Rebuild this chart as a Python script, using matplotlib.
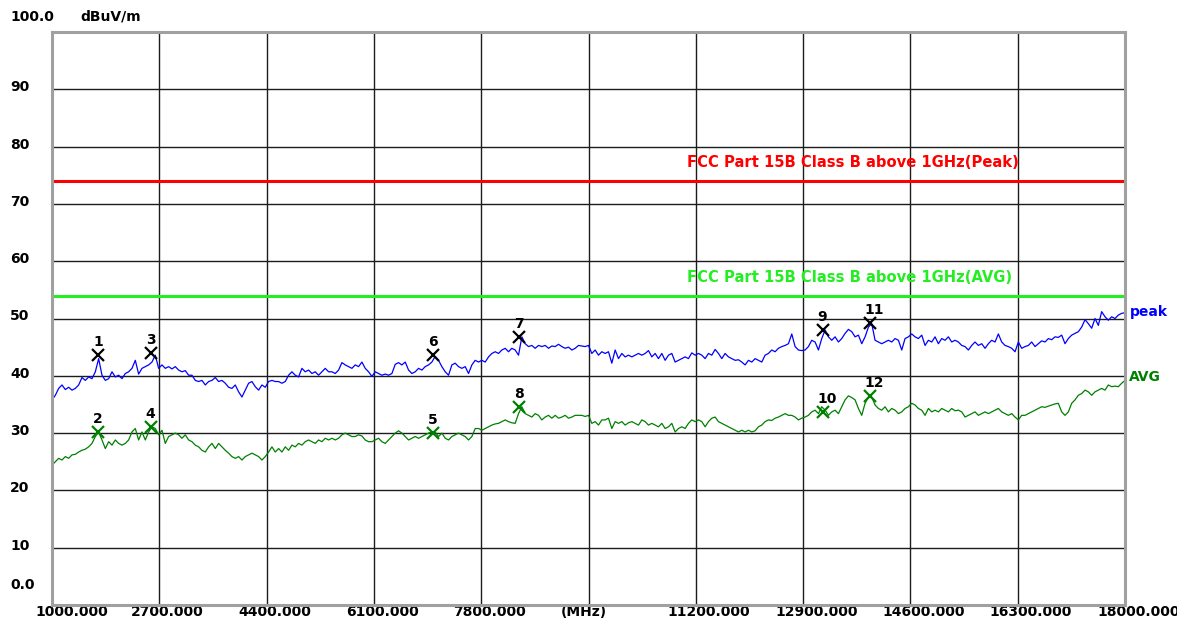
import numpy as np
import matplotlib
matplotlib.use("Agg")
import matplotlib.pyplot as plt
from matplotlib.transforms import ScaledTranslation, blended_transform_factory

# ---------------- data ----------------
peak_seg1 = [35.8, 36.6, 37.8, 38.4, 37.6, 38.0, 37.5, 37.8, 38.4, 39.7,
             39.2, 39.8, 39.5, 40.7, 43.0, 40.1, 39.2, 39.5, 40.7, 39.8,
             40.1, 39.5, 40.4, 40.7, 41.3, 42.7, 40.3, 41.3, 41.6, 41.9,
             42.4, 43.6, 41.3, 41.9, 41.3, 41.6, 41.2, 41.6, 41.0, 40.7,
             40.9, 40.1, 40.1, 39.2, 39.0, 39.2, 38.4, 39.0, 39.2, 39.7,
             39.0, 39.2, 38.7, 38.0, 37.8, 38.4, 37.2, 36.3, 37.5, 38.7,
             39.0, 38.1, 37.5, 38.4, 38.0, 39.0, 39.2, 39.0, 39.0, 38.7,
             39.0, 40.1, 40.7, 40.1, 39.8, 41.3, 40.7, 41.0, 40.4, 40.7,
             40.1, 40.7, 41.3, 40.7, 40.7]
peak_seg2 = [40.4, 41.0, 42.3, 41.9, 41.6, 41.3, 41.9, 41.6, 42.4, 41.3,
             40.7, 39.9, 40.7, 40.4, 40.1, 40.3, 40.1, 40.4, 42.0, 42.3,
             41.9, 42.4, 41.0, 40.4, 40.7, 41.3, 41.0, 41.6, 41.9, 42.4,
             43.4, 42.7, 41.6, 40.7, 40.1, 41.9, 42.2, 41.6, 41.3, 41.6,
             40.4, 41.9, 42.7, 42.4, 42.7, 42.4, 43.3, 43.9, 44.2, 43.9,
             44.5, 44.8, 44.2, 44.8, 44.5, 43.6, 46.8, 45.6, 45.1, 45.3,
             44.8, 45.3, 45.1, 45.3, 44.8, 45.2, 45.1, 45.5, 45.1, 44.8,
             45.0, 44.5, 44.8, 45.3, 45.2, 45.1, 45.3, 43.9, 44.5, 43.6,
             44.2]
peak_seg3 = [43.9, 44.2, 42.2, 44.5, 43.0, 43.9, 43.3, 43.6, 43.3, 43.6,
             43.9, 43.6, 43.9, 44.4, 43.3, 43.9, 43.0, 43.9, 42.7, 43.6,
             43.9, 42.4, 42.7, 43.0, 43.3, 43.0, 44.0, 43.6, 43.9, 43.6,
             43.0, 43.9, 43.6, 44.6, 43.9, 43.0, 43.9, 43.3, 43.0, 42.7,
             42.8, 42.4, 41.9, 42.7, 42.4, 43.0, 42.7, 42.4, 43.6, 43.9,
             44.5, 44.2, 44.8, 45.1, 45.3, 45.6, 47.3, 45.1, 44.5, 44.4,
             44.5, 45.1, 46.2, 45.9, 44.5, 46.5, 48.0, 46.8, 46.2, 46.8,
             45.9, 46.5, 47.4, 48.1, 47.7, 46.8, 47.1, 45.6, 46.8, 48.5,
             49.1]
peak_seg4 = [46.2, 45.9, 45.6, 45.9, 46.2, 45.9, 46.5, 46.2, 44.5, 46.5,
             46.8, 47.3, 46.8, 46.5, 47.1, 45.3, 46.2, 45.9, 46.8, 45.6,
             46.5, 46.2, 46.8, 45.9, 46.2, 45.9, 45.3, 45.1, 44.5, 45.3,
             45.9, 45.3, 45.6, 44.8, 45.6, 46.2, 45.9, 47.3, 45.9, 45.3,
             45.1, 44.8, 44.2, 45.9, 44.8, 45.1, 45.3, 45.9, 45.1, 45.6,
             46.1, 45.9, 46.5, 46.3, 46.8, 46.7, 47.1, 45.6, 46.5, 47.1,
             47.4, 47.7, 48.5, 49.8, 49.1, 48.3, 50.0, 48.8, 51.2, 50.3,
             49.7, 50.3, 50.0, 50.6, 50.9, 51.0]

avg_seg1 = [24.4, 25.0, 25.6, 25.3, 25.9, 25.6, 26.2, 26.3, 26.7, 27.0,
            27.2, 27.6, 28.2, 29.4, 30.2, 28.8, 27.3, 28.5, 27.9, 28.8,
            28.2, 27.9, 28.2, 28.8, 30.2, 30.8, 28.8, 30.2, 28.8, 30.2,
            31.1, 30.8, 29.7, 30.5, 28.2, 29.4, 29.7, 30.0, 29.7, 29.1,
            29.7, 28.8, 28.5, 27.9, 27.6, 27.0, 26.7, 27.6, 28.2, 27.3,
            28.2, 27.6, 27.0, 26.5, 25.9, 25.6, 25.9, 25.3, 25.9, 26.2,
            26.5, 26.2, 25.9, 25.3, 25.9, 26.7, 27.6, 26.7, 27.3, 26.7,
            27.6, 27.0, 27.9, 27.6, 28.2, 27.9, 28.5, 28.8, 28.5, 28.2,
            28.8, 28.5, 29.1, 28.8, 29.1]
avg_seg2 = [28.8, 29.1, 29.7, 30.0, 29.7, 29.4, 29.4, 29.7, 29.5, 28.8,
            28.5, 28.5, 28.8, 29.1, 28.5, 28.2, 28.8, 29.4, 30.0, 30.4,
            30.0, 29.4, 28.8, 29.1, 29.4, 29.1, 29.4, 29.7, 30.0, 30.2,
            30.2, 29.4, 30.0, 29.1, 28.8, 29.4, 29.7, 30.0, 29.7, 29.4,
            28.8, 29.4, 30.8, 30.8, 30.5, 30.8, 31.1, 31.4, 31.6, 31.7,
            32.0, 32.3, 32.0, 31.8, 31.7, 33.4, 34.6, 33.4, 33.1, 32.8,
            33.4, 33.1, 32.3, 32.8, 33.1, 32.6, 33.1, 32.6, 32.8, 33.1,
            32.6, 32.8, 33.1, 33.1, 33.1, 32.9, 33.1, 31.7, 32.0, 31.4,
            32.3]
avg_seg3 = [32.3, 32.6, 30.8, 32.0, 31.7, 32.0, 31.4, 31.8, 32.0, 31.7,
            31.4, 32.3, 32.0, 31.4, 31.7, 31.4, 31.1, 31.7, 30.8, 31.1,
            31.7, 30.2, 30.8, 31.1, 30.8, 31.7, 32.3, 32.0, 32.3, 32.0,
            31.1, 32.0, 32.6, 32.8, 32.0, 31.7, 31.4, 31.1, 30.8, 30.5,
            30.2, 30.5, 30.2, 30.5, 30.2, 30.4, 31.1, 31.4, 32.0, 32.3,
            32.2, 32.6, 32.8, 33.1, 33.4, 33.1, 33.1, 32.8, 32.3, 32.6,
            32.8, 33.1, 33.7, 34.0, 33.4, 34.6, 34.0, 33.1, 33.7, 34.0,
            33.4, 34.6, 35.8, 36.5, 36.2, 35.8, 34.3, 33.1, 35.2, 36.3,
            36.3]
avg_seg4 = [34.9, 34.3, 34.0, 34.6, 33.7, 34.3, 34.0, 33.4, 33.7, 34.3,
            34.6, 35.2, 34.9, 34.3, 34.0, 33.1, 34.3, 33.7, 34.0, 33.7,
            34.3, 34.0, 33.7, 34.3, 33.9, 34.0, 33.7, 32.8, 33.1, 33.4,
            33.7, 33.1, 33.4, 33.7, 33.4, 33.7, 34.0, 34.3, 33.7, 33.4,
            33.1, 33.4, 32.8, 32.3, 33.1, 33.1, 33.4, 33.7, 34.0, 34.3,
            34.6, 34.5, 34.7, 34.9, 35.1, 35.2, 33.7, 33.1, 33.7, 35.2,
            35.8, 36.6, 36.9, 37.5, 37.2, 36.6, 37.2, 37.5, 37.8, 37.5,
            38.4, 38.1, 38.2, 38.1, 38.7, 39.2]

peak_level = np.array(peak_seg1 + peak_seg2 + peak_seg3 + peak_seg4)
avg_level = np.array(avg_seg1 + avg_seg2 + avg_seg3 + avg_seg4)
freq_start, freq_stop = 1000.0, 18000.0
freq = np.linspace(freq_start, freq_stop, len(peak_level))  # sweep points

limit_peak = 74.0
limit_avg = 54.0
limit_peak_label = "FCC Part 15B Class B above 1GHz(Peak)"
limit_avg_label = "FCC Part 15B Class B above 1GHz(AVG)"

marker_ids = ["1", "2", "3", "4", "5", "6", "7", "8", "9", "10", "11", "12"]
marker_freq = [1730, 1730, 2570, 2565, 7030, 7040, 8400, 8400, 13210, 13210, 13958, 13958]
marker_level = [43.6, 30.2, 43.9, 31.1, 30.1, 43.7, 46.8, 34.6, 48.0, 33.7, 49.2, 36.4]
marker_trace = ["peak", "avg", "peak", "avg", "avg", "peak", "peak", "avg", "peak", "avg", "peak", "avg"]

x_tick_vals = [1000, 2700, 4400, 6100, 7800, 9500, 11200, 12900, 14600, 16300, 18000]
x_tick_labels = ["1000.000", "2700.000", "4400.000", "6100.000", "7800.000", "(MHz)",
                 "11200.000", "12900.000", "14600.000", "16300.000", "18000.000"]
y_tick_vals = [0, 10, 20, 30, 40, 50, 60, 70, 80, 90, 100]
y_tick_labels = ["0.0", "10", "20", "30", "40", "50", "60", "70", "80", "90", "100.0"]
unit_label = "dBuV/m"

# ---------------- figure ----------------
W, H = 1177, 628
fig = plt.figure(figsize=(W / 100, H / 100), dpi=100)
fig.patch.set_facecolor("white")
ax = fig.add_axes([52 / W, (H - 605) / H, (1125 - 52) / W, (605 - 32) / H])
ax.set_xlim(freq_start, freq_stop)
ax.set_ylim(0, 100)
ax.set_xticks(x_tick_vals)
ax.set_yticks(y_tick_vals)
ax.tick_params(length=0, labelbottom=False, labelleft=False)
ax.set_axisbelow(True)
ax.grid(True, color="#1c1c1c", lw=1.0)
for sp in ax.spines.values():
    sp.set_color("#a0a0a0")
    sp.set_linewidth(2.2)
    sp.set_zorder(5)

font = dict(family="DejaVu Sans", fontweight="bold", fontsize=10)
limfont = dict(family="DejaVu Sans", fontweight="bold", fontsize=10.6)

# limit lines
ax.axhline(limit_peak, color="#ff0000", lw=2.2, zorder=3)
ax.axhline(limit_avg, color="#22ee22", lw=2.2, zorder=3)
ax.text(11060, limit_peak + 3.3, limit_peak_label, color="#ff0000", ha="left", va="center",
        zorder=4, **limfont)
ax.text(11060, limit_avg + 3.2, limit_avg_label, color="#22ee22", ha="left", va="center",
        zorder=4, **limfont)

# traces
ax.plot(freq, peak_level, color="#0000ff", lw=0.9, zorder=3)
ax.plot(freq, avg_level, color="#008000", lw=0.9, zorder=3)
ax.annotate("peak", (freq[-1], peak_level[-1]), xytext=(5, 1), textcoords="offset pixels",
            color="#0000ff", ha="left", va="center", annotation_clip=False, **font)
ax.annotate("AVG", (freq[-1], avg_level[-1]), xytext=(4, 3), textcoords="offset pixels",
            color="#008000", ha="left", va="center", annotation_clip=False, **font)

# markers
for mid, mf, ml, mt in zip(marker_ids, marker_freq, marker_level, marker_trace):
    col = "black" if mt == "peak" else "#008000"
    ax.plot([mf], [ml], marker="x", ms=8, mew=1.6, color=col, zorder=6, ls="none")
    ax.annotate(mid, (mf, ml), xytext=(-5, 13), textcoords="offset pixels",
                ha="left", va="center", color="black", zorder=6, **font)

# y tick labels (left aligned at x = 10 px)
ytr = blended_transform_factory(fig.transFigure, ax.transData)
for v, lab in zip(y_tick_vals, y_tick_labels):
    if v == 100:
        dy = 15
    elif v == 0:
        dy = 20
    else:
        dy = 2
    ax.text(10 / W, v, lab, transform=ytr + ScaledTranslation(0, dy / 100, fig.dpi_scale_trans),
            ha="left", va="center", color="black", clip_on=False, **font)

# unit label
ax.text(80 / W, 100, unit_label, transform=ytr + ScaledTranslation(0, 15 / 100, fig.dpi_scale_trans),
        ha="left", va="center", color="black", clip_on=False, **font)

# x tick labels (left aligned 28 px left of grid line)
xtr = blended_transform_factory(ax.transData, ax.transAxes)
for i, (v, lab) in enumerate(zip(x_tick_vals, x_tick_labels)):
    dx = -17 if i == 0 else -28
    ax.text(v, 0, lab, transform=xtr + ScaledTranslation(dx / 100, -7 / 100, fig.dpi_scale_trans),
            ha="left", va="center", color="black", clip_on=False, **font)

fig.savefig("out.png", dpi=100, facecolor="white")
